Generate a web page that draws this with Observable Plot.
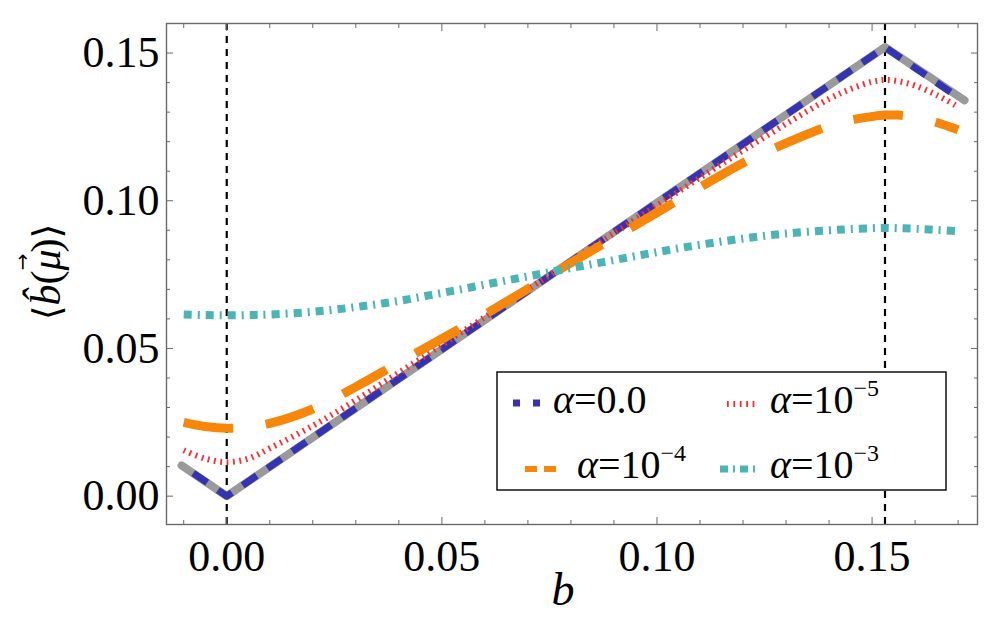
<!DOCTYPE html>
<html>
<head>
<meta charset="utf-8">
<script src="https://cdn.jsdelivr.net/npm/d3@7"></script>
<script src="https://cdn.jsdelivr.net/npm/@observablehq/plot@0.6"></script>
<style>
  html, body { margin: 0; padding: 0; background: white; }
  #chart { position: relative; width: 1006px; height: 622px; }
</style>
</head>
<body>
<div id="chart"></div>
<script>
// ---- data ----
const xMajorTicks = [0, 0.05, 0.10, 0.15];
const xMinorTicks = [-0.01, 0.01, 0.02, 0.03, 0.04, 0.06, 0.07, 0.08, 0.09, 0.11, 0.12, 0.13, 0.14, 0.16, 0.17];
const yMajorTicks = [0, 0.05, 0.10, 0.15];
const yMinorTicks = [0.01, 0.02, 0.03, 0.04, 0.06, 0.07, 0.08, 0.09, 0.11, 0.12, 0.13, 0.14];
const peakLines = [0, 0.153];

// piecewise-linear reference (gray) and alpha = 0 (blue)
const bGray   = [-0.0105, 0, 0.153, 0.1715];
const yGray   = [0.0104, 0, 0.152, 0.134];
const bBlue   = [-0.0078, 0, 0.153, 0.1705];
const yBlue   = [0.0078, 0, 0.152, 0.1345];

// smooth curves
const bSmooth = [-0.01, -0.005, 0, 0.005, 0.01, 0.02, 0.03, 0.04, 0.05, 0.06, 0.07, 0.08, 0.09,
                 0.10, 0.11, 0.12, 0.13, 0.14, 0.145, 0.15, 0.153, 0.156, 0.16, 0.165, 0.17];
const yAlpha1e5 = [0.0155, 0.0127, 0.0115, 0.0127, 0.0162, 0.0238, 0.0325, 0.0418, 0.0512, 0.0606, 0.0700, 0.0795, 0.0890,
                   0.0984, 0.1078, 0.1170, 0.1260, 0.1345, 0.1378, 0.1403, 0.1409, 0.1405, 0.1390, 0.1358, 0.1318];
const yAlpha1e4 = [0.0250, 0.0236, 0.0230, 0.0234, 0.0246, 0.0295, 0.0370, 0.0452, 0.0533, 0.0615, 0.0702, 0.0790, 0.0875,
                   0.0960, 0.1045, 0.1128, 0.1195, 0.1253, 0.1273, 0.1285, 0.1290, 0.1290, 0.1283, 0.1265, 0.1240];
const yAlpha1e3 = [0.0615, 0.0613, 0.0612, 0.0613, 0.0615, 0.0624, 0.0640, 0.0661, 0.0688, 0.0716, 0.0744, 0.0772, 0.0799,
                   0.0826, 0.0851, 0.0872, 0.0889, 0.0900, 0.0904, 0.0907, 0.0908, 0.0907, 0.0905, 0.0901, 0.0897];

const seriesBase = ["0.0", "10", "10", "10"];
const seriesSup  = [null, "−5", "−4", "−3"];

// ---- styles ----
const colGray = "#9a9a9a", colBlue = "#3434b2", colRed = "#ff2b2b", colOrange = "#f6870b", colTeal = "#4bb4b4";
const frameCol = "#6a6a6a";

const gray = bGray.map((b, i) => ({b, v: yGray[i]}));
const blue = bBlue.map((b, i) => ({b, v: yBlue[i]}));
const red = bSmooth.map((b, i) => ({b, v: yAlpha1e5[i]}));
const orange = bSmooth.map((b, i) => ({b, v: yAlpha1e4[i]}));
const teal = bSmooth.map((b, i) => ({b, v: yAlpha1e3[i]}));

const fmt = d3.format(".2f");

const plot = Plot.plot({
  width: 1006,
  height: 622,
  marginLeft: 166,
  marginRight: 29,
  marginTop: 23,
  marginBottom: 98,
  style: {fontFamily: "'Liberation Serif', 'Times New Roman', serif", fontSize: "44px", background: "white", color: "black"},
  x: {domain: [-0.014, 0.1745]},
  y: {domain: [-0.0096, 0.160]},
  marks: [
    Plot.ruleX(peakLines, {stroke: "black", strokeWidth: 2.2, strokeDasharray: "7,6"}),
    Plot.line(gray, {x: "b", y: "v", stroke: colGray, strokeWidth: 8}),
    Plot.line(blue, {x: "b", y: "v", stroke: colBlue, strokeWidth: 7, strokeDasharray: "17,13", strokeLinecap: "butt"}),
    Plot.line(red, {x: "b", y: "v", curve: "catmull-rom", stroke: colRed, strokeWidth: 6, strokeDasharray: "1.8,4.6", strokeLinecap: "butt"}),
    Plot.line(orange, {x: "b", y: "v", curve: "catmull-rom", stroke: colOrange, strokeWidth: 9, strokeDasharray: "50,33", strokeLinecap: "butt"}),
    Plot.line(teal, {x: "b", y: "v", curve: "catmull-rom", stroke: colTeal, strokeWidth: 8, strokeDasharray: "8,6,2,6", strokeLinecap: "butt"}),
    Plot.frame({stroke: frameCol, strokeWidth: 1.4}),
    // tick labels
    Plot.axisX(xMajorTicks, {anchor: "bottom", tickSize: 0, tickPadding: 15, tickFormat: fmt, fontSize: 44, label: null}),
    Plot.axisY(yMajorTicks, {anchor: "left", tickSize: 0, tickPadding: 7, tickFormat: fmt, fontSize: 44, label: null}),
    // inward ticks on all four sides
    Plot.axisX(xMajorTicks, {anchor: "bottom", tickSize: -7, tickFormat: () => "", stroke: frameCol, label: null}),
    Plot.axisX(xMinorTicks, {anchor: "bottom", tickSize: -4, tickFormat: () => "", stroke: frameCol, label: null}),
    Plot.axisX(xMajorTicks, {anchor: "top", tickSize: -7, tickFormat: () => "", stroke: frameCol, label: null}),
    Plot.axisX(xMinorTicks, {anchor: "top", tickSize: -4, tickFormat: () => "", stroke: frameCol, label: null}),
    Plot.axisY(yMajorTicks, {anchor: "left", tickSize: -7, tickFormat: () => "", stroke: frameCol, label: null}),
    Plot.axisY(yMinorTicks, {anchor: "left", tickSize: -4, tickFormat: () => "", stroke: frameCol, label: null}),
    Plot.axisY(yMajorTicks, {anchor: "right", tickSize: -7, tickFormat: () => "", stroke: frameCol, label: null}),
    Plot.axisY(yMinorTicks, {anchor: "right", tickSize: -4, tickFormat: () => "", stroke: frameCol, label: null})
  ]
});

document.getElementById("chart").append(plot);

const svg = d3.select(plot);
const serif = "'Liberation Serif', 'Times New Roman', serif";

// x-axis label
svg.append("text")
  .attr("x", 563).attr("y", 605)
  .attr("text-anchor", "middle")
  .attr("font-family", serif).attr("font-size", 46).attr("font-style", "italic")
  .text("b");

// y-axis label  ⟨ b̂(μ⃗) ⟩
const yl = svg.append("text")
  .attr("transform", "translate(60,272) rotate(-90)")
  .attr("text-anchor", "middle")
  .attr("font-family", serif).attr("font-size", 42);
yl.append("tspan").attr("font-family", "DejaVu Serif").attr("font-size", 38).text("⟨");
yl.append("tspan").attr("font-style", "italic").text("b\u0302");
yl.append("tspan").text("(");
yl.append("tspan").attr("font-style", "italic").text("μ");
yl.append("tspan").attr("font-family", "DejaVu Sans").attr("font-size", 20).attr("dx", -21).attr("dy", -31).text("→");
yl.append("tspan").attr("dx", 1).attr("dy", 31).text(")");
yl.append("tspan").attr("font-family", "DejaVu Serif").attr("font-size", 38).text("⟩");

// legend
const lg = svg.append("g").attr("text-anchor", "start");
lg.append("rect").attr("x", 497).attr("y", 372).attr("width", 449).attr("height", 118)
  .attr("fill", "white").attr("stroke", "black").attr("stroke-width", 1.4);

const entries = [
  {col: colBlue, w: 7, dash: "7,13", x1: 513, x2: 541, y: 403, tx: 553, ty: 413},
  {col: colRed, w: 6, dash: "1.8,4.6", x1: 727, x2: 757, y: 404, tx: 770, ty: 413},
  {col: colOrange, w: 6, dash: "12,7", x1: 525, x2: 556, y: 469, tx: 577, ty: 478},
  {col: colTeal, w: 7, dash: "8,5,2,5", x1: 720, x2: 758, y: 469, tx: 770, ty: 478}
];
entries.forEach((e, i) => {
  lg.append("line").attr("x1", e.x1).attr("x2", e.x2).attr("y1", e.y).attr("y2", e.y)
    .attr("stroke", e.col).attr("stroke-width", e.w).attr("stroke-dasharray", e.dash);
  const t = lg.append("text").attr("x", e.tx).attr("y", e.ty)
    .attr("text-anchor", "start")
    .attr("font-family", serif).attr("font-size", 40);
  t.append("tspan").attr("font-style", "italic").text("α");
  t.append("tspan").text("=" + seriesBase[i]);
  if (seriesSup[i]) t.append("tspan").attr("font-size", 24).attr("dy", -17).text(seriesSup[i]);
});
</script>
</body>
</html>
